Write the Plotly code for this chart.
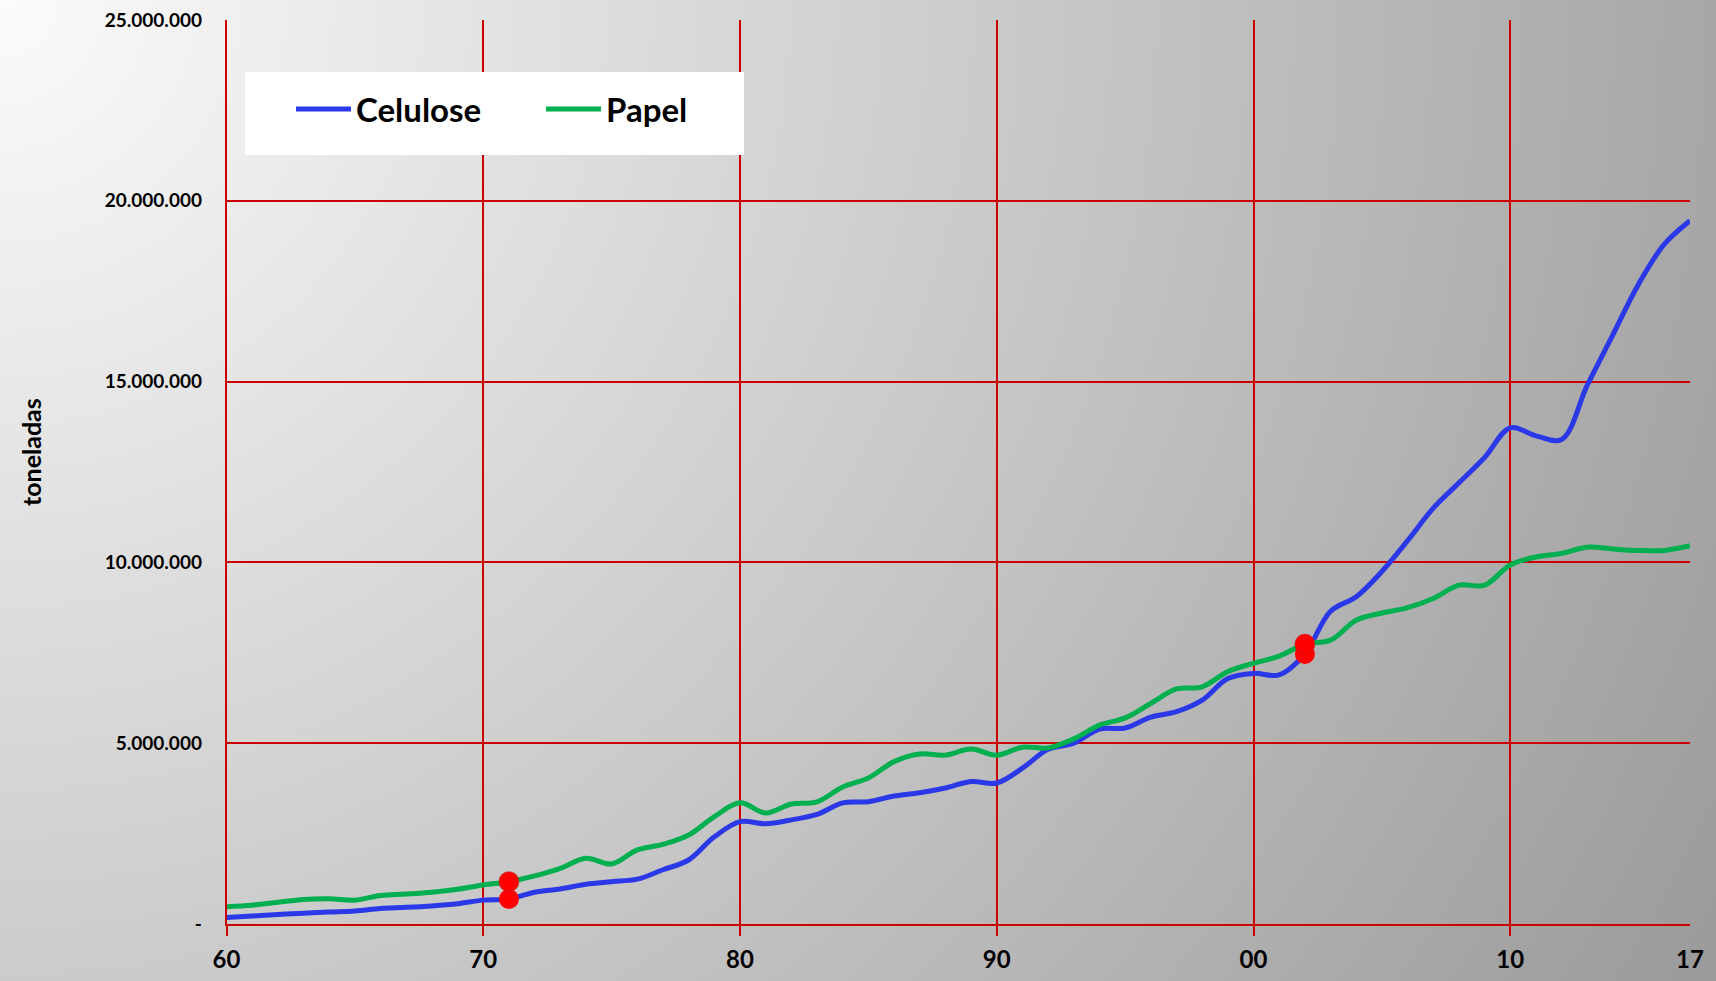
import base64
import plotly.graph_objects as go

# ---------------- data ----------------
years = list(range(1960, 2018))

# Produção brasileira (milhões de toneladas)
celulose_mt = [
    0.18, 0.22, 0.26, 0.30, 0.33, 0.36, 0.43, 0.46, 0.50, 0.56,   # 1960-69
    0.66, 0.69, 0.88, 0.97, 1.10, 1.17, 1.24, 1.50, 1.77, 2.41,   # 1970-79
    2.83, 2.77, 2.88, 3.03, 3.35, 3.38, 3.54, 3.63, 3.76, 3.94,   # 1980-89
    3.90, 4.31, 4.83, 5.00, 5.39, 5.42, 5.72, 5.87, 6.19, 6.79,   # 1990-99
    6.93, 6.89, 7.47, 8.65, 9.05, 9.75, 10.60, 11.50, 12.20, 12.90,  # 2000-09
    13.72, 13.50, 13.40, 14.90, 16.30, 17.70, 18.80, 19.45,       # 2010-17
]
papel_mt = [
    0.48, 0.52, 0.60, 0.68, 0.70, 0.66, 0.79, 0.83, 0.88, 0.96,   # 1960-69
    1.08, 1.17, 1.33, 1.54, 1.82, 1.66, 2.05, 2.20, 2.46, 2.97,   # 1970-79
    3.35, 3.07, 3.32, 3.38, 3.79, 4.04, 4.49, 4.70, 4.67, 4.84,   # 1980-89
    4.67, 4.89, 4.87, 5.12, 5.50, 5.70, 6.10, 6.50, 6.56, 6.98,   # 1990-99
    7.21, 7.41, 7.74, 7.85, 8.40, 8.60, 8.75, 9.00, 9.37, 9.37,   # 2000-09
    9.93, 10.15, 10.25, 10.42, 10.37, 10.33, 10.33, 10.46,        # 2010-17
]
celulose = [v * 1e6 for v in celulose_mt]
papel = [v * 1e6 for v in papel_mt]

highlight_years = [1971, 2002]

x_tickvals = [1960, 1970, 1980, 1990, 2000, 2010]
x_ticktext = ["60", "70", "80", "90", "00", "10"]
x_last_val = [2017]
x_last_text = ["17"]

y_tickvals = [0, 5e6, 10e6, 15e6, 20e6, 25e6]
y_ticktext = ["-", "5.000.000", "10.000.000", "15.000.000", "20.000.000", "25.000.000"]

# ---------------- layout geometry (pixels) ----------------
W, H = 1716, 981
PL, PR, PT, PB = 226.5, 1690, 20, 924

BLUE = "#2b38e8"
GREEN = "#00b050"
RED = "#cc0000"
FONT = "Lato"

def px_x(p):
    return p / W

def px_y(p):
    return 1 - p / H

svg = (
    f'<svg xmlns="http://www.w3.org/2000/svg" width="{W}" height="{H}">'
    '<defs><radialGradient id="g" cx="0" cy="0" r="1977" gradientUnits="userSpaceOnUse">'
    '<stop offset="0" stop-color="#fbfbfb"/><stop offset="1" stop-color="#9a9a9a"/>'
    '</radialGradient></defs>'
    f'<rect width="{W}" height="{H}" fill="url(#g)"/></svg>'
)
bg_src = "data:image/svg+xml;base64," + base64.b64encode(svg.encode()).decode()

fig = go.Figure()
fig.add_trace(go.Scatter(
    x=years, y=celulose, name="Celulose", mode="lines",
    line=dict(color=BLUE, width=5, shape="spline", smoothing=1.0),
))
fig.add_trace(go.Scatter(
    x=years, y=papel, name="Papel", mode="lines",
    line=dict(color=GREEN, width=5, shape="spline", smoothing=1.0),
))

hl_cel = [celulose[years.index(y)] for y in highlight_years]
hl_pap = [papel[years.index(y)] for y in highlight_years]
fig.add_trace(go.Scatter(
    x=highlight_years, y=hl_cel, mode="markers", showlegend=False,
    marker=dict(color="#ff0000", size=20, line=dict(width=0)),
    xaxis="x2", yaxis="y",
))
fig.add_trace(go.Scatter(
    x=highlight_years, y=hl_pap, mode="markers", showlegend=False,
    marker=dict(color="#ff0000", size=20, line=dict(width=1, color="rgba(190,40,40,0.7)")),
    xaxis="x2", yaxis="y",
))

xdom = [px_x(PL), px_x(PR)]
ydom = [px_y(PB), px_y(PT)]

fig.update_layout(
    width=W, height=H,
    margin=dict(l=0, r=0, t=0, b=0),
    paper_bgcolor="#c8c8c8",
    plot_bgcolor="rgba(0,0,0,0)",
    font=dict(family=FONT, color="#000000", weight="bold"),
    images=[dict(source=bg_src, xref="paper", yref="paper", x=0, y=1,
                 sizex=1, sizey=1, xanchor="left", yanchor="top",
                 sizing="stretch", layer="below")],
    xaxis=dict(
        domain=xdom, range=[1960, 2017], tickvals=x_tickvals, ticktext=x_ticktext,
        ticks="outside", ticklen=10, tickwidth=1.5, tickcolor=RED,
        showgrid=True, gridcolor=RED, gridwidth=1.5,
        showline=True, linecolor=RED, linewidth=1.5, zeroline=False,
        tickfont=dict(size=24, family=FONT, weight="bold"),
        ticklabelstandoff=3, automargin=False, fixedrange=True,
    ),
    xaxis2=dict(
        overlaying="x", anchor="y", side="bottom", range=[1960, 2017],
        tickvals=x_last_val, ticktext=x_last_text, ticks="", ticklen=10,
        showgrid=False, showline=False, zeroline=False,
        tickfont=dict(size=24, family=FONT, weight="bold"),
        ticklabelstandoff=19, automargin=False,
    ),
    yaxis=dict(
        domain=ydom, range=[0, 25e6], tickvals=y_tickvals, ticktext=y_ticktext,
        ticks="", showgrid=True, gridcolor=RED, gridwidth=1.5,
        showline=True, linecolor=RED, linewidth=1.5, zeroline=False,
        tickfont=dict(size=19, family=FONT, weight="bold"),
        ticklabelstandoff=19, automargin=False,
    ),
    showlegend=True,
    legend=dict(
        orientation="h", x=px_x(291), y=px_y(109), xanchor="left", yanchor="middle",
        bgcolor="rgba(0,0,0,0)", borderwidth=0,
        font=dict(size=33, family=FONT, weight="bold", color="#000000"),
        itemwidth=55,
        entrywidthmode="pixels", entrywidth=180,
    ),
    shapes=[dict(type="rect", xref="paper", yref="paper",
                 x0=px_x(245), x1=px_x(744), y0=px_y(155), y1=px_y(72),
                 fillcolor="#ffffff", line=dict(width=0), layer="above")],
    annotations=[dict(text="toneladas", xref="paper", yref="paper",
                      x=px_x(31), y=px_y(452), xanchor="center", yanchor="middle",
                      textangle=-90, showarrow=False,
                      font=dict(size=25, family=FONT, weight="bold", color="#000000"))],
)

fig.write_html("out.html", config={"displayModeBar": False},
               post_script="document.body.style.margin='0';")
